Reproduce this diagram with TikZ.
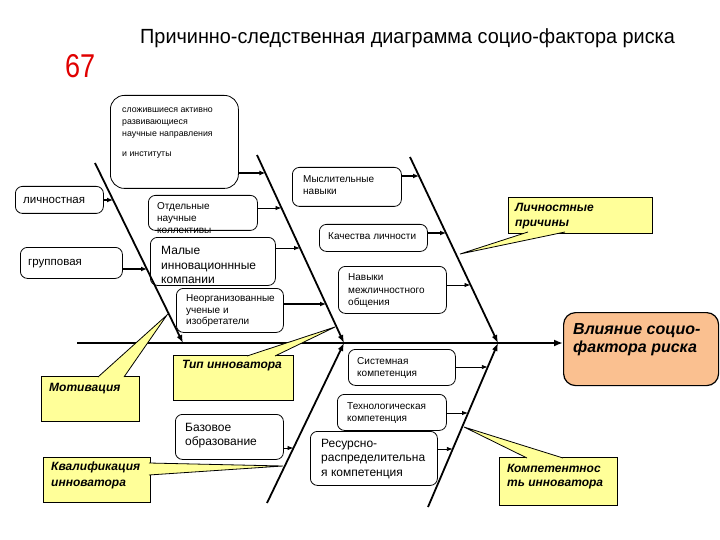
\documentclass[tikz,border=0pt]{standalone}
\usepackage{fontspec}
\setmainfont{Liberation Sans}
\usetikzlibrary{arrows.meta,calc}
\definecolor{callY}{HTML}{FFFF99}
\definecolor{bigO}{HTML}{FAC090}
\definecolor{numR}{HTML}{E00000}
\newcommand\fsz[2]{\fontsize{#1}{#2}\selectfont}
\begin{document}
\begin{tikzpicture}[x=1pt,y=-1pt,
  bx/.style={draw, line width=0.8pt, rounded corners=7pt, fill=white, inner sep=0pt, anchor=north west},
  cy/.style={draw, line width=0.8pt, fill=callY, inner sep=0pt, anchor=north west},
  tx/.style={anchor=north west, inner sep=0pt, align=left},
  ctx/.style={tx, font=\fsz{12}{15}\bfseries\itshape},
  bone/.style={line width=1.8pt, -{Latex[length=8pt,width=6pt]}},
  tarr/.style={line width=1.8pt, -{Latex[length=6pt,width=5pt]}},
  sarr/.style={line width=0.9pt, -{Latex[length=6pt,width=4.5pt]}},
  ptr/.style={line width=0.8pt}
]
\useasboundingbox (0,0) rectangle (720,540);

% title and page number
\node[anchor=base west, inner sep=0pt, font=\fsz{20.5}{24}] (title) at (140,43.3) {\scalebox{0.968}[1]{Причинно-следственная диаграмма социо-фактора риска}};
\node[anchor=base west, inner sep=0pt, font=\fsz{33}{36}, text=numR] (num) at (65,78) {\scalebox{0.82}[1]{67}};

% cause boxes
\node[bx, rounded corners=14pt, minimum width=128pt, minimum height=93pt] (sl) at (110,95) {};
\node[bx, minimum width=88pt, minimum height=27pt] (li) at (15,186) {};
\node[bx, minimum width=102pt, minimum height=31pt] (gr) at (20,247) {};
\node[bx, minimum width=109pt, minimum height=35pt] (ot) at (148,195) {};
\node[bx, minimum width=125pt, minimum height=48pt] (ma) at (150,237) {};
\node[bx, minimum width=107pt, minimum height=44pt] (ne) at (176,288) {};
\node[bx, minimum width=109pt, minimum height=39pt] (my) at (292,167) {};
\node[bx, minimum width=108pt, minimum height=27pt] (ka) at (319,224) {};
\node[bx, minimum width=108pt, minimum height=47pt] (na) at (338,266) {};
\node[bx, minimum width=107pt, minimum height=36pt] (si) at (348,349) {};
\node[bx, minimum width=109pt, minimum height=36pt] (te) at (337,394) {};
\node[bx, minimum width=127pt, minimum height=54pt] (re) at (310,431) {};
\node[bx, minimum width=108pt, minimum height=45pt] (ba) at (175,414) {};

% effect box
\node[bx, rounded corners=12pt, line width=1.2pt, fill=bigO, minimum width=155pt, minimum height=73pt] (big) at (563,312) {};

% bone coordinates
\coordinate (B1s) at (95,163);  \coordinate (B1e) at (183,343);
\coordinate (B2s) at (257,155); \coordinate (J1) at (344,343);
\coordinate (B3s) at (410,157); \coordinate (J2) at (498,343);
\coordinate (B4s) at (267,503); \coordinate (B5s) at (428,507);
\coordinate (S0) at (77,343);

% spine and bones
\draw[line width=2.4pt, -{Latex[length=9pt,width=7pt]}] (S0) -- (big.west |- S0);
\draw[bone] (B1s) -- (B1e);
\draw[bone] (B2s) -- (J1);
\draw[bone] (B3s) -- (J2);
\draw[bone] (B4s) -- (J1);
\draw[bone] (B5s) -- (J2);

% arrow targets on bones
\coordinate (a1) at (265.3,173);
\coordinate (a2) at (113,200);
\coordinate (a3) at (281.5,208);
\coordinate (a4) at (147,269);
\coordinate (a5) at (300,248);
\coordinate (a6) at (326,304);
\coordinate (a7) at (419,176);
\coordinate (a8) at (446,233);
\coordinate (a9) at (470.5,285);
\coordinate (a10) at (487.8,367);
\coordinate (a11) at (468,413);
\coordinate (a12) at (452.8,449);
\coordinate (a13) at (293.5,448);

\draw[tarr] (a1 -| sl.east) -- (a1);
\draw[tarr] (a2 -| li.east) -- (a2);
\draw[sarr] (a3 -| ot.east) -- (a3);
\draw[tarr] (a4 -| gr.east) -- (a4);
\draw[sarr] (a5 -| ma.east) -- (a5);
\draw[tarr] (a6 -| ne.east) -- (a6);
\draw[tarr] (a7 -| my.east) -- (a7);
\draw[tarr] (a8 -| ka.east) -- (a8);
\draw[sarr] (a9 -| na.east) -- (a9);
\draw[sarr] (a10 -| si.east) -- (a10);
\draw[sarr] (a11 -| te.east) -- (a11);
\draw[sarr] (a12 -| re.east) -- (a12);
\draw[sarr] (a13 -| ba.east) -- (a13);

% box texts
\node[tx, font=\fsz{8.8}{12}] (slt) at (122,104) {\strut сложившиеся активно\\развивающиеся\\научные направления\\[8pt]и институты};
\node[tx, font=\fsz{11.5}{13}] (lit) at (23,193.9) {\strut личностная};
\node[tx, font=\fsz{11.5}{13}] (grt) at (28,255.9) {\strut групповая};
\node[tx, font=\fsz{10}{12}] (ott) at (157,201.2) {\strut Отдельные\\научные\\коллективы};
\node[tx, font=\fsz{12}{14.5}] (mat) at (161,244.5) {\strut Малые\\инновационнные\\компании};
\node[tx, font=\fsz{10}{11.5}] (net) at (186,293.5) {\strut Неорганизованные\\ученые и\\изобретатели};
\node[tx, font=\fsz{10}{12}] (myt) at (303,174.2) {\strut Мыслительные\\навыки};
\node[tx, font=\fsz{10}{12}] (kat) at (328,231.2) {\strut Качества личности};
\node[tx, font=\fsz{10}{12.5}] (nat) at (348,271.9) {\strut Навыки\\межличностного\\общения};
\node[tx, font=\fsz{10}{11.5}] (sit) at (357,356.5) {\strut Системная\\компетенция};
\node[tx, font=\fsz{10}{12}] (tet) at (347,401.2) {\strut Технологическая\\компетенция};
\node[tx, font=\fsz{12}{14.5}] (ret) at (321,437) {\strut Ресурсно-\\распределительна\\я компетенция};
\node[tx, font=\fsz{12}{14}] (bat) at (185,421.3) {\strut Базовое\\образование};
\node[tx, font=\fsz{16}{18}\bfseries\itshape] (bigt) at (573,321.6) {\strut Влияние социо-\\фактора риска};

% callouts
\node[cy, minimum width=144pt, minimum height=36pt] (lp) at (508,197) {};
\node[cy, minimum width=120pt, minimum height=45pt] (ti) at (173,355) {};
\node[cy, minimum width=98pt, minimum height=45pt] (mo) at (41,376) {};
\node[cy, minimum width=107pt, minimum height=45pt] (kv) at (43,457) {};
\node[cy, minimum width=118pt, minimum height=48pt] (ko) at (499,457) {};

\coordinate (lpT) at (460,254); \coordinate (lp1) at (528,232); \coordinate (lp2) at (565,232);
\coordinate (tiT) at (335,327); \coordinate (ti1) at (247,356); \coordinate (ti2) at (275,356);
\coordinate (moT) at (167,315); \coordinate (mo1) at (98,377);  \coordinate (mo2) at (124,377);
\coordinate (kvT) at (283,466); \coordinate (kv1) at (149,463); \coordinate (kv2) at (149,475);
\coordinate (koT) at (464,427); \coordinate (ko1) at (527,458); \coordinate (ko2) at (563,458);

\foreach \c in {lp,ti,mo,kv,ko}{
  \fill[callY] (\c1) -- (\c T) -- (\c2) -- cycle;
  \draw[ptr] (\c1) -- (\c T) -- (\c2);
}

\node[ctx] (lpt) at (515,200.6) {\strut Личностные\\причины};
\node[ctx] (tit) at (182,357.6) {\strut Тип инноватора};
\node[ctx] (mot) at (49,380.6) {\strut Мотивация};
\node[ctx, font=\fsz{12}{16}\bfseries\itshape] (kvt) at (51,458.9) {\strut Квалификация\\инноватора};
\node[ctx, font=\fsz{12}{14}\bfseries\itshape] (kot) at (507,462.3) {\strut Компетентнос\\ть инноватора};
\end{tikzpicture}
\end{document}
